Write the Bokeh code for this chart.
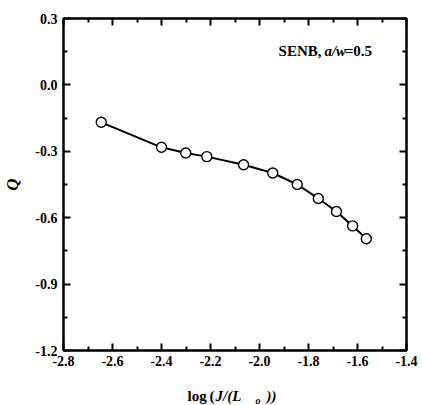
from bokeh.plotting import figure
from bokeh.models import LinearAxis, Range1d, FixedTicker, NumeralTickFormatter, Label, CustomJSTickFormatter
from bokeh.layouts import column
from bokeh.core.properties import value
from bokeh.embed import file_html
from bokeh.resources import INLINE

log_j = [-2.646, -2.400, -2.301, -2.215, -2.065, -1.946, -1.846, -1.760, -1.686, -1.620, -1.564]
q_vals = [-0.169, -0.282, -0.308, -0.324, -0.361, -0.398, -0.450, -0.513, -0.572, -0.637, -0.695]
x_ticks = [-2.8, -2.6, -2.4, -2.2, -2.0, -1.8, -1.6, -1.4]
x_minor = [-2.7, -2.5, -2.3, -2.1, -1.9, -1.7, -1.5]
y_ticks = [-1.2, -0.9, -0.6, -0.3, 0.0, 0.3]
y_minor = [-1.05, -0.75, -0.45, -0.15, 0.15]

FONT = "Liberation Serif"

p = figure(width=422, height=370, output_backend="svg", toolbar_location=None,
           x_range=Range1d(-2.8, -1.4), y_range=Range1d(-1.2, 0.3),
           min_border_left=63, min_border_right=16, min_border_top=18, min_border_bottom=20,
           y_axis_label="Q")
p.grid.visible = False
p.outline_line_color = "black"
p.outline_line_width = 2
p.background_fill_color = "white"
p.border_fill_color = "white"

def style(ax):
    ax.axis_line_width = 2
    ax.axis_line_color = "black"
    ax.major_tick_in = 7
    ax.major_tick_out = 0
    ax.minor_tick_in = 4
    ax.minor_tick_out = 0
    ax.major_tick_line_width = 2
    ax.minor_tick_line_width = 2
    ax.major_label_text_font = FONT
    ax.major_label_text_font_style = "bold"
    ax.major_label_text_font_size = "14px"
    ax.major_label_text_color = "black"
    ax.axis_label_text_font = FONT
    ax.axis_label_text_color = "black"

xa = p.xaxis[0]
ya = p.yaxis[0]
xa.ticker = FixedTicker(ticks=x_ticks, minor_ticks=x_minor)
ya.ticker = FixedTicker(ticks=y_ticks, minor_ticks=y_minor)
xa.formatter = NumeralTickFormatter(format="0.0")
ya.formatter = NumeralTickFormatter(format="0.0")
style(xa)
style(ya)
xa.major_label_standoff = 5
ya.major_label_standoff = 6
ya.axis_label_text_font_size = "17px"
ya.axis_label_text_font_style = "bold italic"
ya.axis_label_standoff = 10

blank = CustomJSTickFormatter(code="return '';")
xt = LinearAxis(ticker=FixedTicker(ticks=x_ticks, minor_ticks=x_minor), formatter=blank)
yr = LinearAxis(ticker=FixedTicker(ticks=y_ticks, minor_ticks=y_minor), formatter=blank)
style(xt)
style(yr)
xt.major_label_standoff = 0
yr.major_label_standoff = 0
p.add_layout(xt, "above")
p.add_layout(yr, "right")

p.line(log_j, q_vals, line_color="black", line_width=2)
p.scatter(log_j, q_vals, size=10, fill_color="white", line_color="black", line_width=1.4)

def lab(x, y, txt, st, size):
    p.add_layout(Label(x=x, y=y, text=txt, text_font=FONT, text_font_style=st,
                       text_font_size=size, text_color="black", text_baseline="alphabetic"))

lab(-1.922, 0.155, "SENB, ", "bold", "15px")
lab(-1.735, 0.155, "a/w", "bold italic", "15px")
lab(-1.652, 0.155, "=0.5", "bold", "15px")

# x-axis title strip (mixed upright / italic / subscript text); its frame is
# aligned with the main plot's frame (pixels 63..406), so use pixel-like range
p2 = figure(width=422, height=35, output_backend="svg", toolbar_location=None,
            x_range=Range1d(63, 406), y_range=Range1d(0, 35),
            min_border=0, min_border_left=0, min_border_right=0,
            min_border_top=0, min_border_bottom=0)
p2.axis.visible = False
p2.grid.visible = False
p2.outline_line_color = None
p2.border_fill_color = "white"
p2.background_fill_color = "white"

def t2(x, y, txt, st, size):
    p2.text(x=[x], y=[y], text=[txt], text_font=value(FONT), text_font_style=st,
            text_font_size=size, text_color="black", text_baseline="alphabetic")

t2(187, 10, "log", "bold", "15px")
t2(209, 10, "(", "bold", "15px")
t2(215, 10, "J/(L", "bold italic", "15px")
t2(255, 5, "o", "bold italic", "10px")
t2(266, 10, "))", "bold italic", "15px")

layout = column(p, p2, spacing=0)
open("out.html", "w").write(file_html(layout, INLINE))
